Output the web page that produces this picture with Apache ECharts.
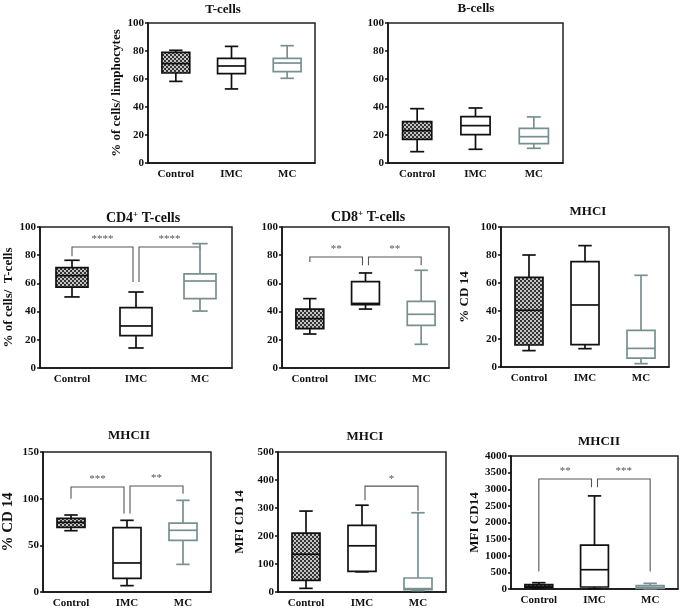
<!DOCTYPE html>
<html>
<head>
<meta charset="utf-8">
<script src="https://cdn.jsdelivr.net/npm/echarts@6/dist/echarts.min.js"></script>
<style>html,body{margin:0;padding:0;background:#fff}#c{width:689px;height:610px}</style>
</head>
<body>
<div id="c"></div>
<script>
// ---- data: [min, Q1, median, Q3, max] per category ----
const categories = ['Control', 'IMC', 'MC'];
const tCells   = [[58.3, 64.3, 71, 79, 80.5], [52.9, 63.8, 69.3, 74.8, 83.3], [60.5, 65.2, 71.4, 74.8, 83.8]];
const bCells   = [[8.1, 16.9, 23.1, 29.5, 38.8], [9.8, 20.2, 26.7, 33.1, 39.3], [10.5, 13.8, 18.8, 24.8, 32.9]];
const cd4      = [[50.4, 57.4, 65.5, 71.2, 76.4], [14.2, 22.9, 29.8, 42.8, 53.9], [40.4, 49.2, 61.7, 66.7, 88.2]];
const cd8      = [[24.1, 27.9, 35, 41.8, 49.2], [41.8, 44.9, 45.8, 61.2, 67.4], [16.8, 30.3, 38.1, 47.3, 69.3]];
const mhciPct  = [[11.7, 15.7, 40.5, 64, 80], [13.1, 16, 44.3, 75.2, 86.7], [2.4, 6.4, 13.3, 26.2, 65.5]];
const mhciiPct = [[65.7, 69.3, 74.6, 78.9, 82.5], [6.8, 14.6, 31.1, 68.9, 76.8], [29.6, 55.4, 66.1, 73.9, 98.2]];
const mhciMfi  = [[13, 41.5, 135, 210, 289], [72, 73.5, 165, 238, 310], [5, 8, 12, 50, 283]];
const mhciiMfi = [[20, 40, 80, 130, 190], [10, 60, 580, 1320, 2800], [5, 20, 50, 100, 170]];

// significance brackets: [fromCat, toCat, top, fromEnd, toEnd, label]
const cd4Sig      = [[0, 1, 85.8, 79.2, 61, '****'], [1, 2, 85.8, 61, 83.5, '****']];
const cd8Sig      = [[0, 1, 78.7, 75.2, 72.8, '**'], [1, 2, 78.7, 72.8, 72.8, '**']];
const mhciiPctSig = [[0, 1, 112.5, 100, 84, '***'], [1, 2, 113.6, 84, 105.4, '**']];
const mhciMfiSig  = [[1, 2, 378, 328, 290, '*']];
const mhciiMfiSig = [[0, 1, 3310, 530, 3060, '**'], [1, 2, 3310, 3060, 530, '***']];

// ---- styling ----
const FONT = '"Liberation Serif", "Times New Roman", serif';
const INK = '#111';
const MC_COLOR = '#789090';
const SIG_COLOR = '#555';

const pc = document.createElement('canvas');
pc.width = 4; pc.height = 4;
const g = pc.getContext('2d');
g.fillStyle = '#c4c4c4'; g.fillRect(0, 0, 4, 4);
g.fillStyle = '#333333'; g.fillRect(0, 0, 2, 2); g.fillRect(2, 2, 2, 2);
const hatch = { image: pc, repeat: 'repeat' };

const strokes = [INK, INK, MC_COLOR];
const fills = [hatch, '#fff', '#fff'];

const panels = [
  { data: tCells,   rect: [148, 23, 167, 140],      max: 100,  step: 20,  name: '% of cells/ limphocytes', gap: 21, title: 'T-cells', tx: 223, ty: 10, ts: 13 },
  { data: bCells,   rect: [388, 23, 175, 140],      max: 100,  step: 20,  name: '', gap: 20, title: 'B-cells', tx: 476, ty: 9, ts: 13 },
  { data: cd4,      rect: [40, 227, 192, 141],      max: 100,  step: 20,  name: '% of cells/  T-cells', gap: 19, title: 'CD4{sup|+} T-cells', tx: 143, ty: 218, ts: 14, sig: cd4Sig },
  { data: cd8,      rect: [282, 227, 167, 141],     max: 100,  step: 20,  name: '', gap: 20, title: 'CD8{sup|+} T-cells', tx: 368, ty: 217, ts: 14, sig: cd8Sig },
  { data: mhciPct,  rect: [501, 227, 168, 140],     max: 100,  step: 20,  name: '% CD 14', gap: 30, title: 'MHCI', tx: 588, ty: 212, ts: 13 },
  { data: mhciiPct, rect: [43, 452, 168, 140],      max: 150,  step: 50,  name: '% CD 14', gap: 27, title: 'MHCII', tx: 129, ty: 436, ts: 13, sig: mhciiPctSig, nameSize: 15 },
  { data: mhciMfi,  rect: [278, 452, 168, 140],     max: 500,  step: 100, name: 'MFI CD 14', gap: 32, title: 'MHCI', tx: 365, ty: 437, ts: 13, sig: mhciMfiSig },
  { data: mhciiMfi, rect: [511, 456, 167, 133],     max: 4000, step: 500, name: 'MFI CD14', gap: 30, title: 'MHCII', tx: 599, ty: 442, ts: 13, sig: mhciiMfiSig }
];

function renderBox(params, api) {
  const ci = api.value(0);
  const band = api.size([1, 0])[0];
  const bw = band * 0.5, cw = band * 0.24;
  const pMin = api.coord([ci, api.value(1)]);
  const pQ1 = api.coord([ci, api.value(2)]);
  const pMed = api.coord([ci, api.value(3)]);
  const pQ3 = api.coord([ci, api.value(4)]);
  const pMax = api.coord([ci, api.value(5)]);
  const x = pMin[0];
  const st = { stroke: strokes[ci], lineWidth: 1.7, fill: null };
  return {
    type: 'group',
    children: [
      { type: 'line', shape: { x1: x, y1: pMax[1], x2: x, y2: pQ3[1] }, style: st },
      { type: 'line', shape: { x1: x, y1: pQ1[1], x2: x, y2: pMin[1] }, style: st },
      { type: 'line', shape: { x1: x - cw / 2, y1: pMax[1], x2: x + cw / 2, y2: pMax[1] }, style: st },
      { type: 'line', shape: { x1: x - cw / 2, y1: pMin[1], x2: x + cw / 2, y2: pMin[1] }, style: st },
      { type: 'rect', shape: { x: x - bw / 2, y: pQ3[1], width: bw, height: pQ1[1] - pQ3[1] },
        style: { fill: fills[ci], stroke: strokes[ci], lineWidth: 1.7 } },
      { type: 'line', shape: { x1: x - bw / 2, y1: pMed[1], x2: x + bw / 2, y2: pMed[1] }, style: st }
    ]
  };
}

function renderSig(params, api) {
  const c1 = api.value(0), c2 = api.value(1);
  const pTop1 = api.coord([c1, api.value(2)]);
  const pTop2 = api.coord([c2, api.value(2)]);
  const pE1 = api.coord([c1, api.value(3)]);
  const pE2 = api.coord([c2, api.value(4)]);
  const x1 = pTop1[0] + (c1 === 1 ? 3 : 0);
  const x2 = pTop2[0] - (c2 === 1 ? 3 : 0);
  const y = pTop1[1];
  const label = api.value(5);
  return {
    type: 'group',
    children: [
      { type: 'polyline', shape: { points: [[x1, pE1[1]], [x1, y], [x2, y], [x2, pE2[1]]] },
        style: { stroke: SIG_COLOR, lineWidth: 1.1, fill: null } },
      { type: 'text', x: (x1 + x2) / 2, y: y - 2,
        style: { text: label, fill: SIG_COLOR, fontSize: 11, fontFamily: FONT, align: 'center', verticalAlign: 'bottom' } }
    ]
  };
}

const grid = [], xAxis = [], yAxis = [], series = [], graphic = [];
panels.forEach((p, i) => {
  grid.push({ left: p.rect[0], top: p.rect[1], width: p.rect[2], height: p.rect[3], show: true,
    borderColor: '#222', borderWidth: 1.5, backgroundColor: 'transparent' });
  xAxis.push({
    type: 'category', gridIndex: i, data: categories,
    axisLine: { lineStyle: { color: INK, width: 1.5 } },
    axisTick: { alignWithLabel: true, length: 4, lineStyle: { color: INK, width: 1.5 } },
    axisLabel: { fontFamily: FONT, fontWeight: 'bold', fontSize: 11, color: INK, margin: 6 },
    splitLine: { show: false }
  });
  yAxis.push({
    type: 'value', gridIndex: i, min: 0, max: p.max, interval: p.step,
    name: p.name, nameLocation: 'middle', nameGap: p.gap,
    nameTextStyle: { fontFamily: FONT, fontWeight: 'bold', fontSize: p.nameSize || 13, color: INK },
    axisLine: { show: true, lineStyle: { color: INK, width: 1.5 } },
    axisTick: { show: true, length: 3, lineStyle: { color: INK, width: 1.5 } },
    axisLabel: { fontFamily: FONT, fontWeight: 'bold', fontSize: 11, color: INK, margin: 4,
      formatter: v => String(v) },
    splitLine: { show: false }
  });
  series.push({
    type: 'custom', xAxisIndex: i, yAxisIndex: i,
    data: p.data.map((d, ci) => [ci].concat(d)),
    encode: { x: 0, y: [1, 2, 3, 4, 5] },
    renderItem: renderBox, silent: true, clip: false
  });
  if (p.sig) {
    series.push({
      type: 'custom', xAxisIndex: i, yAxisIndex: i,
      data: p.sig,
      encode: { x: [0, 1], y: [2, 3, 4] },
      renderItem: renderSig, silent: true, clip: false, z: 1
    });
  }
  graphic.push({
    type: 'text', x: p.tx, y: p.ty,
    style: {
      text: p.title, fill: INK, fontFamily: FONT, fontWeight: 'bold', fontSize: p.ts,
      align: 'center', verticalAlign: 'middle',
      rich: { sup: { fontFamily: FONT, fontWeight: 'bold', fontSize: 9, fill: INK, verticalAlign: 'top', padding: [0, 0, 6, 0] } }
    }
  });
});

const chart = echarts.init(document.getElementById('c'), null, { renderer: 'canvas' });
chart.setOption({ animation: false, backgroundColor: '#fff', grid, xAxis, yAxis, series, graphic });
</script>
</body>
</html>
